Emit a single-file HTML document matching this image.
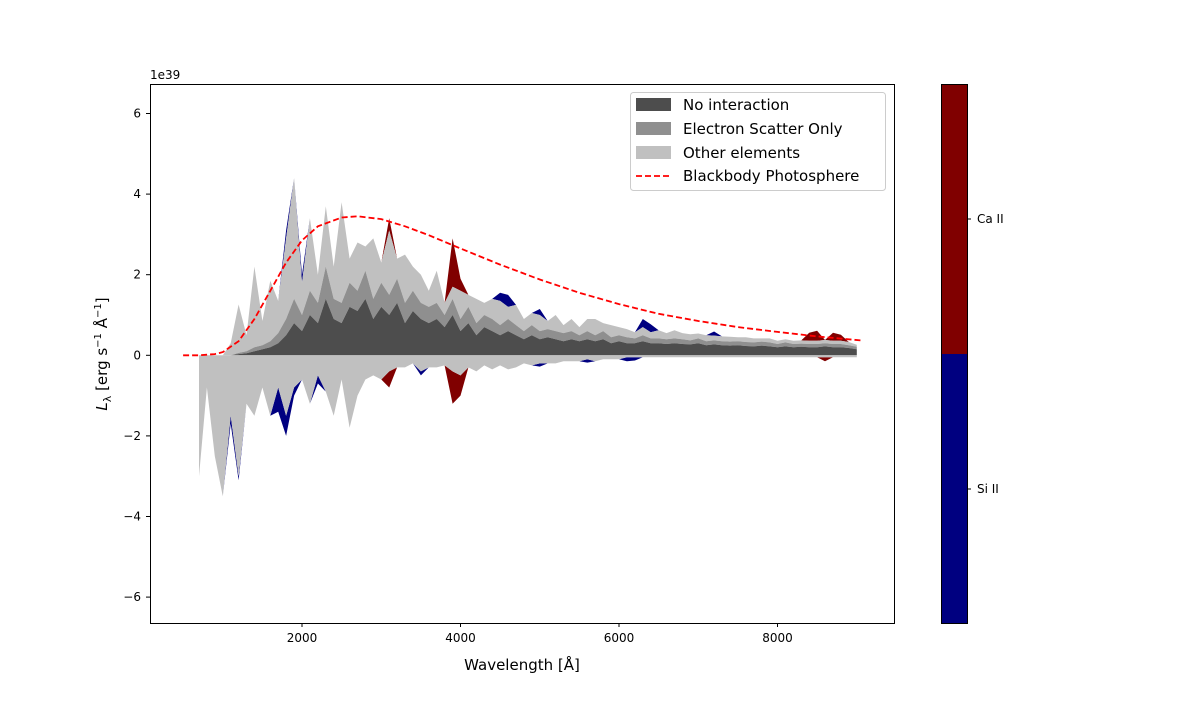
<!DOCTYPE html>
<html><head><meta charset="utf-8"><style>
body{margin:0;background:#fff;width:1200px;height:700px;overflow:hidden;font-family:"Liberation Sans","DejaVu Sans",sans-serif;}
svg text{font-family:"DejaVu Sans","Liberation Sans",sans-serif;}
</style></head><body>
<svg id="chart" width="1200" height="700" xmlns="http://www.w3.org/2000/svg">
<g id="marks"></g>
<rect x="150.5" y="84.5" width="744" height="539" fill="none" stroke="#000" stroke-width="1"/>
<g id="axes"></g>
<text x="150" y="79" font-size="12">1e39</text>
<text x="522" y="670" font-size="15" text-anchor="middle">Wavelength [Å]</text>
<text transform="translate(107,354) rotate(-90)" font-size="15" text-anchor="middle"><tspan font-style="italic">L</tspan><tspan font-size="11" dy="4">λ</tspan><tspan dy="-4"> [erg s</tspan><tspan font-size="10" dy="-6">−1</tspan><tspan dy="6"> Å</tspan><tspan font-size="10" dy="-6">−1</tspan><tspan dy="6">]</tspan></text>
<g>
<rect x="630.5" y="92.5" width="255" height="98" rx="3" fill="#fff" fill-opacity="0.8" stroke="#ccc"/>
<rect x="636" y="98" width="35" height="13" fill="#4d4d4d"/>
<text x="683" y="110" font-size="15">No interaction</text>
<rect x="636" y="122" width="35" height="13" fill="#8f8f8f"/>
<text x="683" y="134" font-size="15">Electron Scatter Only</text>
<rect x="636" y="146" width="35" height="13" fill="#c0c0c0"/>
<text x="683" y="158" font-size="15">Other elements</text>
<line x1="636" y1="176" x2="671" y2="176" stroke="red" stroke-width="1.8" stroke-dasharray="6,3"/>
<text x="683" y="181" font-size="15">Blackbody Photosphere</text>
</g>
<g>
<rect x="941" y="84" width="26" height="270" fill="#800000"/>
<rect x="941" y="354" width="26" height="269" fill="#000080"/>
<rect x="941.5" y="84.5" width="26" height="539" fill="none" stroke="#000"/>
<line x1="967" y1="219" x2="971" y2="219" stroke="#000"/>
<line x1="967" y1="489" x2="971" y2="489" stroke="#000"/>
<text x="977" y="223" font-size="12">Ca II</text>
<text x="977" y="493" font-size="12">Si II</text>
</g>
</svg>
<script>
const wl0 = 700, wlStep = 100;
const noInt = [0,0,0,0,0,0.03,0.05,0.1,0.15,0.2, 0.3,0.5,0.8,0.6,1.0,0.8,1.4,0.9,0.8,1.2, 1.1,1.4,0.9,1.2,1.0,1.3,0.8,1.1,0.9,0.8, 0.9,0.7,1.0,0.6,0.8,0.5,0.7,0.6,0.5,0.6, 0.5,0.4,0.5,0.4,0.45,0.4,0.35,0.4,0.35,0.4, 0.35,0.4,0.3,0.35,0.3,0.3,0.35,0.3,0.3,0.28, 0.3,0.28,0.27,0.3,0.25,0.27,0.25,0.24,0.25,0.23, 0.22,0.24,0.22,0.2,0.22,0.2,0.21,0.2,0.2,0.22, 0.2,0.2,0.18,0.15];
const escat = [0,0,0,0,0,0.03,0.05,0.1,0.1,0.15, 0.25,0.4,0.6,0.4,0.6,0.5,0.8,0.5,0.5,0.6, 0.5,0.7,0.5,0.6,0.5,0.6,0.5,0.5,0.4,0.4, 0.4,0.3,0.4,0.3,0.4,0.3,0.3,0.3,0.25,0.3, 0.25,0.2,0.25,0.2,0.2,0.2,0.2,0.2,0.15,0.2, 0.15,0.2,0.15,0.15,0.15,0.12,0.15,0.12,0.12,0.12, 0.12,0.12,0.1,0.12,0.1,0.1,0.1,0.1,0.1,0.1, 0.1,0.1,0.1,0.08,0.1,0.08,0.08,0.08,0.08,0.08, 0.08,0.08,0.07,0.06];
const otherPos = [0,0,0,0,0.3,1.2,0.4,2.0,0.6,1.5, 0.8,2.0,3.0,0.8,1.8,0.7,1.5,0.8,2.5,0.6, 1.2,0.6,1.5,0.5,1.6,0.5,1.2,0.6,0.7,0.4, 0.8,0.3,0.3,0.7,0.3,0.6,0.3,0.5,0.6,0.3, 0.5,0.3,0.3,0.4,0.2,0.4,0.2,0.3,0.2,0.3, 0.4,0.2,0.3,0.2,0.2,0.15,0.2,0.15,0.2,0.15, 0.2,0.15,0.15,0.12,0.15,0.12,0.12,0.12,0.1,0.12, 0.1,0.08,0.1,0.08,0.08,0.08,0.08,0.08,0.08,0.08, 0.08,0.08,0.08,0.05];
const siPos = [0,0,0,0,0,0,0,0,0,0, 0,0.2,0,0.2,0,0,0,0,0,0, 0,0,0,0,0,0,0,0,0,0, 0,0,0,0,0,0,0,0,0.2,0.3, 0,0,0,0.15,0,0,0,0,0,0, 0,0,0,0,0,0,0.2,0.2,0,0, 0,0,0,0,0,0.1,0,0,0,0, 0,0,0,0,0,0,0,0,0,0, 0,0,0,0];
const caPos = [0,0,0,0,0,0,0,0,0,0, 0,0,0,0,0,0,0,0,0,0, 0,0,0,0,0.3,0,0,0,0,0, 0,0,1.2,0.3,0,0,0,0,0,0, 0,0,0,0,0,0,0,0,0,0, 0,0,0,0,0,0,0,0,0,0, 0,0,0,0,0,0,0,0,0,0, 0,0,0,0,0,0,0,0.2,0.25,0, 0.2,0.15,0,0];
const otherNeg = [3.0,0.8,2.5,3.5,1.5,3.0,1.2,1.5,0.8,1.5, 0.8,1.5,0.8,0.6,1.2,0.5,0.9,1.5,0.6,1.8, 1.0,0.6,0.5,0.6,0.4,0.3,0.3,0.2,0.4,0.3, 0.3,0.25,0.4,0.5,0.3,0.4,0.25,0.35,0.25,0.35, 0.3,0.2,0.25,0.2,0.2,0.2,0.15,0.15,0.15,0.1, 0.15,0.1,0.1,0.1,0.05,0.05,0.05,0.05,0.05,0.05, 0.05,0.05,0.05,0.05,0.05,0.05,0.05,0.05,0.05,0.05, 0.05,0.05,0.05,0.05,0.05,0.05,0.05,0.05,0.05,0.05, 0.05,0.05,0.05,0.05];
const siNeg = [0,0,0,0,0.2,0.1,0,0,0,0, 0.6,0.5,0.2,0,0,0.2,0,0,0,0, 0,0,0,0,0,0,0,0,0.1,0, 0,0,0,0,0,0,0,0,0,0, 0,0,0,0.08,0,0,0,0,0,0.08, 0,0,0,0,0.1,0.08,0,0,0,0, 0,0,0,0,0,0,0,0,0,0, 0,0,0,0,0,0,0,0,0,0, 0,0,0,0];
const caNeg = [0,0,0,0,0,0,0,0,0,0, 0,0,0,0,0,0,0,0,0,0, 0,0,0,0,0.4,0,0,0,0,0, 0,0,0.8,0.5,0,0,0,0,0,0, 0,0,0,0,0,0,0,0,0,0, 0,0,0,0,0,0,0,0,0,0, 0,0,0,0,0,0,0,0,0,0, 0,0,0,0,0,0,0,0,0,0.1, 0,0,0,0];
const bbWl = [500,700,900,1000,1200,1400,1600,1800,2000,2200,2500,2700,3000,3300,3600,4000,4500,5000,5500,6000,6500,7000,7500,8000,8500,9050];
const bbL = [0,0,0.03,0.08,0.35,0.9,1.6,2.3,2.85,3.2,3.42,3.45,3.38,3.2,2.98,2.65,2.25,1.88,1.55,1.27,1.03,0.85,0.7,0.58,0.47,0.37];
const xTicks = [2000,4000,6000,8000];
const yTicks = [-6,-4,-2,0,2,4,6];

const X = w => 143.5 + w*0.07925;
const Y = v => 355.3 - v*40.3;
const NS = 'http://www.w3.org/2000/svg';
const marks = document.getElementById('marks');
const axes = document.getElementById('axes');
const n = noInt.length;
const wl = i => wl0 + i*wlStep;

function area(lower, upper, fill, name){
  let d = '';
  for(let i=0;i<n;i++) d += (i?'L':'M') + X(wl(i)).toFixed(1)+','+Y(upper[i]).toFixed(1);
  for(let i=n-1;i>=0;i--) d += 'L' + X(wl(i)).toFixed(1)+','+Y(lower[i]).toFixed(1);
  const p = document.createElementNS(NS,'path');
  p.setAttribute('d', d+'Z');
  p.setAttribute('fill', fill);
  
  
  marks.appendChild(p);
}
const zero = noInt.map(()=>0);
const c1 = noInt.slice();
const c2 = c1.map((v,i)=>v+escat[i]);
const c3 = c2.map((v,i)=>v+otherPos[i]);
const c4 = c3.map((v,i)=>v+siPos[i]);
const c5 = c4.map((v,i)=>v+caPos[i]);
const n1 = otherNeg.map(v=>-v);
const n2 = n1.map((v,i)=>v-siNeg[i]);
const n3 = n2.map((v,i)=>v-caNeg[i]);
area(c4,c5,'#800000','ca-ii-positive-area');
area(c3,c4,'#000080','si-ii-positive-area');
area(c2,c3,'#c0c0c0','other-elements-positive-area');
area(c1,c2,'#8f8f8f','electron-scatter-area');
area(zero,c1,'#4d4d4d','no-interaction-area');
area(n2,n3,'#800000','ca-ii-negative-area');
area(n1,n2,'#000080','si-ii-negative-area');
area(n1,zero,'#c0c0c0','other-elements-negative-area');

let bd = '';
bbWl.forEach((w,i)=>{ bd += (i?'L':'M') + X(w).toFixed(1)+','+Y(bbL[i]).toFixed(1); });
const bb = document.createElementNS(NS,'path');
bb.setAttribute('d', bd);
bb.setAttribute('fill','none');
bb.setAttribute('stroke','red');
bb.setAttribute('stroke-width','1.8');
bb.setAttribute('stroke-dasharray','6,3');


marks.appendChild(bb);

xTicks.forEach(t=>{
  const x = X(t);
  const l = document.createElementNS(NS,'line');
  l.setAttribute('x1',x);l.setAttribute('x2',x);l.setAttribute('y1',623);l.setAttribute('y2',627);l.setAttribute('stroke','#000');
  
  
  axes.appendChild(l);
  const tx = document.createElementNS(NS,'text');
  tx.setAttribute('x',x);tx.setAttribute('y',642);tx.setAttribute('font-size','12');tx.setAttribute('text-anchor','middle');
  tx.textContent = t;
  
  
  axes.appendChild(tx);
});
yTicks.forEach(t=>{
  const y = Y(t);
  const l = document.createElementNS(NS,'line');
  l.setAttribute('x1',146);l.setAttribute('x2',150);l.setAttribute('y1',y);l.setAttribute('y2',y);l.setAttribute('stroke','#000');
  
  
  axes.appendChild(l);
  const tx = document.createElementNS(NS,'text');
  tx.setAttribute('x',141);tx.setAttribute('y',y+4);tx.setAttribute('font-size','12');tx.setAttribute('text-anchor','end');
  tx.textContent = t<0 ? '−'+Math.abs(t) : t;
  
  
  axes.appendChild(tx);
});
</script>
</body></html>
